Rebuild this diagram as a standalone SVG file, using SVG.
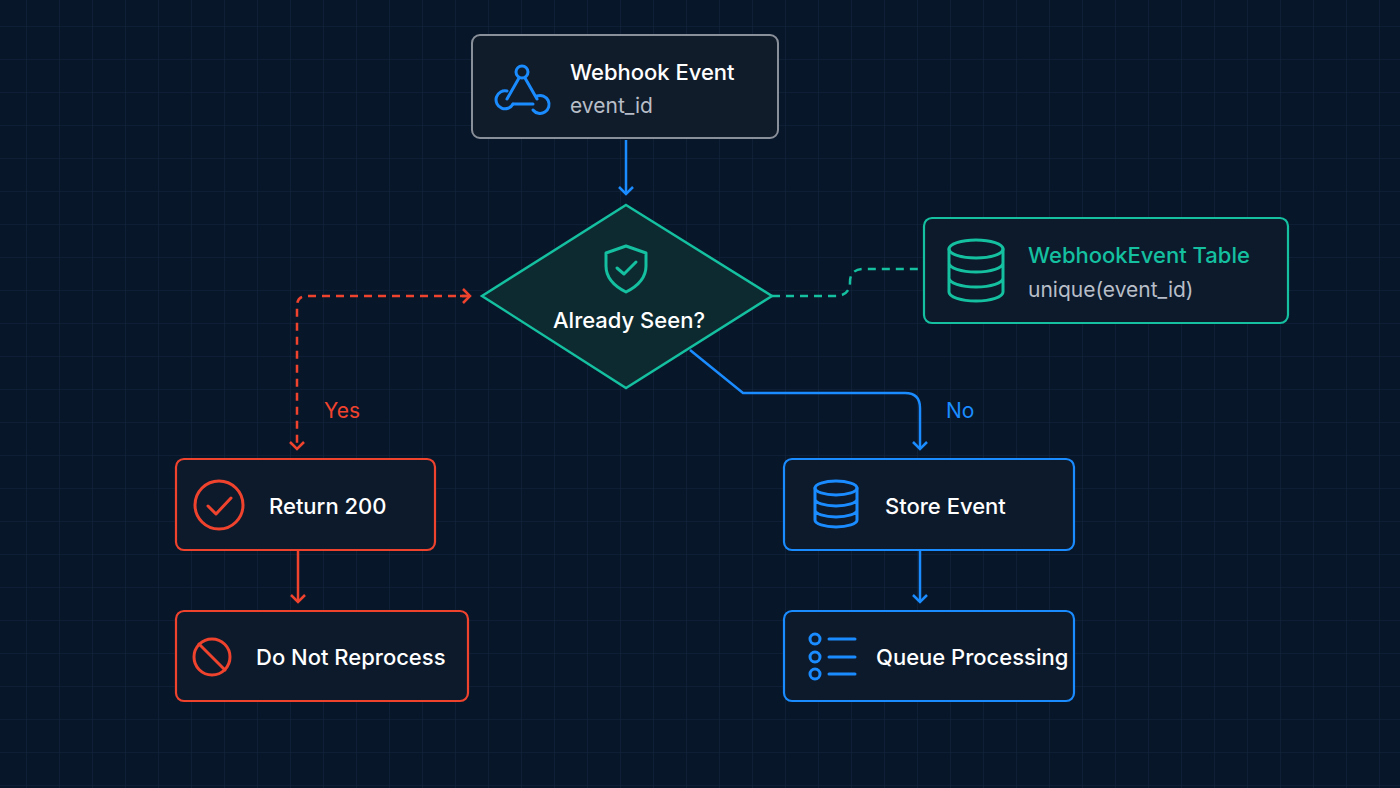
<svg xmlns="http://www.w3.org/2000/svg" width="1400" height="788" viewBox="0 0 1400 788">
<defs>
<pattern id="grid" x="26" y="26" width="33" height="33" patternUnits="userSpaceOnUse">
<path d="M0 0H33M0 0V33" fill="none" stroke="#13263d" stroke-width="1.2"/>
</pattern>
<marker id="ab" markerWidth="16" markerHeight="16" refX="8" refY="8" orient="auto" markerUnits="userSpaceOnUse"><path d="M1 1L8 8L1 15" fill="none" stroke="#1a8cff" stroke-width="2.5"/></marker>
<marker id="ar" markerWidth="16" markerHeight="16" refX="8" refY="8" orient="auto" markerUnits="userSpaceOnUse"><path d="M1 1L8 8L1 15" fill="none" stroke="#f0432e" stroke-width="2.5"/></marker>
</defs>
<style>
text{font-family:Inter,"Liberation Sans",sans-serif}
.t{fill:#ffffff;font-size:22px;font-weight:500}
.s{fill:#b8bec8;font-size:21px}
.blue{fill:#0c1a2c;stroke:#1a8cff;stroke-width:2.2}
.red{fill:#0c1a2c;stroke:#f0432e;stroke-width:2.2}
.ib{fill:none;stroke:#1a8cff;stroke-width:3;stroke-linecap:round;stroke-linejoin:round}
.ir{fill:none;stroke:#f0432e;stroke-width:3;stroke-linecap:round;stroke-linejoin:round}
.ig{fill:none;stroke:#14c0a0;stroke-width:3;stroke-linecap:round;stroke-linejoin:round}
</style>
<rect width="1400" height="788" fill="#08162a"/>
<rect width="1400" height="788" fill="url(#grid)"/>
<g id="connectors" fill="none" stroke-width="2.5">
<path d="M626 140V194" stroke="#1a8cff" marker-end="url(#ab)"/>
<path d="M690 350L743 393H905Q920 393 920 408V449" stroke="#1a8cff" marker-end="url(#ab)"/>
<path d="M920 550V602" stroke="#1a8cff" marker-end="url(#ab)"/>
<path d="M298 550V602" stroke="#f0432e" marker-end="url(#ar)"/>
<path d="M470 296H307Q297 296 297 306V449" stroke="#f0432e" stroke-dasharray="8 6" marker-end="url(#ar)"/>
<path d="M460 296H470" stroke="#f0432e" marker-end="url(#ar)"/>
<path d="M772 296H835Q850 296 850 282Q850 269 864 269H923" stroke="#14c0a0" stroke-dasharray="8 6"/>
<text x="324" y="418" fill="#f0432e" font-size="21">Yes</text>
<text x="946" y="418" fill="#1a8cff" font-size="21">No</text>
</g>
<g id="webhook">
<rect x="472" y="35" width="306" height="103" rx="8" fill="#111c2a" stroke="#8a9099" stroke-width="2"/>
<circle cx="522" cy="72" r="6" class="ib"/>
<path d="M519 78L507 99M525 78L537 99M513 104H533" class="ib"/>
<path d="M507 91A9 9 0 1 0 513 104" class="ib"/>
<path d="M537 96A9 9 0 1 1 533 110" class="ib"/>
<text x="570" y="80" class="t">Webhook Event</text>
<text x="570" y="113" class="s">event_id</text>
</g>
<g id="decision">
<path d="M626 205L772 296L626 388L482 296Z" fill="#0d2a30" stroke="#14c0a0" stroke-width="2.5"/>
<path d="M626 246L646 253V266Q646 282 626 292Q606 282 606 266V253Z" class="ig"/>
<path d="M617 268L624 274L636 262" class="ig"/>
<text x="629" y="328" class="t" font-size="19" text-anchor="middle">Already Seen?</text>
</g>
<g id="table">
<rect x="924" y="218" width="364" height="105" rx="8" fill="#0c1a2c" stroke="#14c0a0" stroke-width="2.2"/>
<ellipse cx="976" cy="249" rx="27" ry="9" class="ig"/>
<path d="M949 249V292A27 9 0 0 0 1003 292V249M949 263A27 9 0 0 0 1003 263M949 278A27 9 0 0 0 1003 278" class="ig"/>
<text x="1028" y="263" fill="#14c0a0" font-size="22" font-weight="500">WebhookEvent Table</text>
<text x="1028" y="297" class="s">unique(event_id)</text>
</g>
<g id="return200">
<rect x="176" y="459" width="259" height="91" rx="8" class="red"/>
<circle cx="219" cy="505" r="24" class="ir"/>
<path d="M208 506L216 514L231 498" class="ir"/>
<text x="269" y="514" class="t">Return 200</text>
</g>
<g id="noreprocess">
<rect x="176" y="611" width="292" height="90" rx="8" class="red"/>
<circle cx="212" cy="657" r="18" class="ir"/>
<path d="M199 644L225 670" class="ir"/>
<text x="256" y="665" class="t">Do Not Reprocess</text>
</g>
<g id="store">
<rect x="784" y="459" width="290" height="91" rx="8" class="blue"/>
<ellipse cx="836" cy="488" rx="21" ry="7" class="ib"/>
<path d="M815 488V520A21 7 0 0 0 857 520V488M815 499A21 7 0 0 0 857 499M815 510A21 7 0 0 0 857 510" class="ib"/>
<text x="885" y="514" class="t">Store Event</text>
</g>
<g id="queue">
<rect x="784" y="611" width="290" height="90" rx="8" class="blue"/>
<circle cx="815" cy="639" r="5" class="ib"/><circle cx="815" cy="657" r="5" class="ib"/><circle cx="815" cy="674" r="5" class="ib"/>
<path d="M829 639H855M829 657H855M829 674H855" class="ib"/>
<text x="876" y="665" class="t" font-size="21.5">Queue Processing</text>
</g>
</svg>
